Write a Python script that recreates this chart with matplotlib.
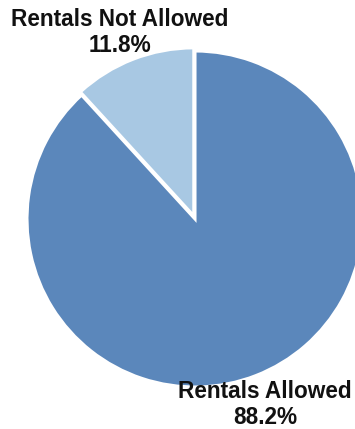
import matplotlib
matplotlib.use("Agg")
import matplotlib.pyplot as plt

labels = ["Rentals Allowed", "Rentals Not Allowed"]
values = [88.2, 11.8]
colors = ["#5b87bb", "#a8c8e3"]

W, H = 355, 429
fig = plt.figure(figsize=(W/100, H/100), dpi=100)
cx, cy, r = 195, 219, 168
ax = fig.add_axes([(cx - r)/W, (H - cy - r)/H, 2*r/W, 2*r/H])
wedges, _ = ax.pie(values, colors=colors, startangle=90, counterclock=False,
                   explode=[0, 0.02], radius=1,
                   wedgeprops=dict(edgecolor="white", linewidth=2.2))
for w in wedges:
    w.set_clip_on(False)
ax.set_xlim(-1, 1)
ax.set_ylim(-1, 1)
ax.set_aspect("equal")
ax.axis("off")

font = dict(family="Liberation Sans", weight="bold", fontsize=16.3, color="#111111",
            ha="center", va="center")
fig.text(120/W, 1 - 19/H, labels[1], **font)
fig.text(120/W, 1 - 46/H, f"{values[1]}%", **font)
fig.text(265/W, 1 - 391/H, labels[0], **font)
fig.text(265/W, 1 - 417/H, f"{values[0]}%", **font)

fig.savefig("out.png", dpi=100)
